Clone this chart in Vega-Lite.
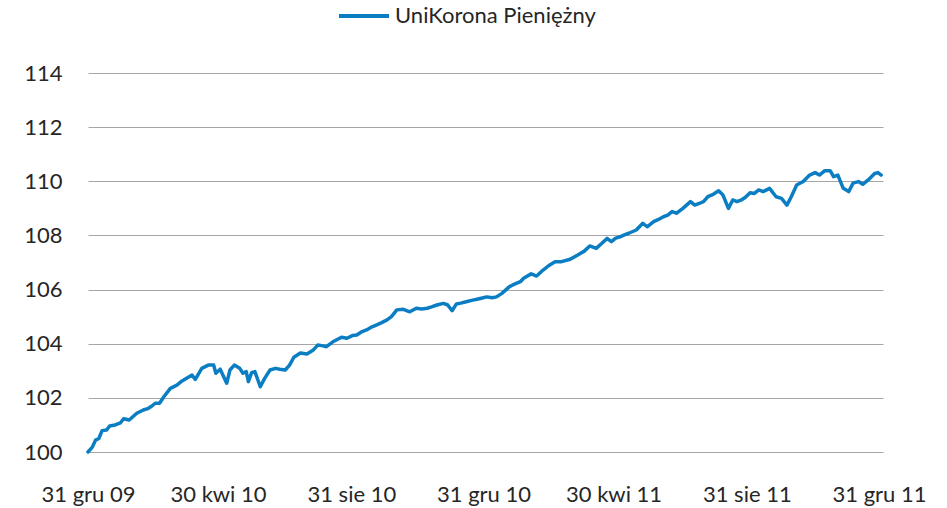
{
  "$schema": "https://vega.github.io/schema/vega-lite/v6.json",
  "autosize": {"type": "none"},
  "width": 795,
  "height": 379,
  "padding": {"left": 88, "top": 73, "right": 64, "bottom": 56},
  "background": "white",
  "config": {
    "view": {"stroke": null},
    "font": "Lato",
    "axis": {"labelFont": "Lato", "labelFontSize": 22, "labelColor": "#262626", "ticks": false, "tickSize": 0, "domain": false, "title": null}
  },
  "data": {
    "values": [
      {"date": "2009-12-31T00:00:00", "value": 100.0},
      {"date": "2010-01-04T00:00:00", "value": 100.18},
      {"date": "2010-01-07T00:00:00", "value": 100.44},
      {"date": "2010-01-10T00:00:00", "value": 100.50},
      {"date": "2010-01-13T00:00:00", "value": 100.79},
      {"date": "2010-01-17T00:00:00", "value": 100.81},
      {"date": "2010-01-20T00:00:00", "value": 100.96},
      {"date": "2010-01-25T00:00:00", "value": 101.00},
      {"date": "2010-01-30T00:00:00", "value": 101.08},
      {"date": "2010-02-02T00:00:00", "value": 101.23},
      {"date": "2010-02-07T00:00:00", "value": 101.18},
      {"date": "2010-02-14T00:00:00", "value": 101.43},
      {"date": "2010-02-20T00:00:00", "value": 101.55},
      {"date": "2010-02-24T00:00:00", "value": 101.60},
      {"date": "2010-02-28T00:00:00", "value": 101.70},
      {"date": "2010-03-03T00:00:00", "value": 101.80},
      {"date": "2010-03-07T00:00:00", "value": 101.80},
      {"date": "2010-03-11T00:00:00", "value": 102.04},
      {"date": "2010-03-17T00:00:00", "value": 102.35},
      {"date": "2010-03-23T00:00:00", "value": 102.47},
      {"date": "2010-03-27T00:00:00", "value": 102.60},
      {"date": "2010-04-01T00:00:00", "value": 102.72},
      {"date": "2010-04-06T00:00:00", "value": 102.84},
      {"date": "2010-04-09T00:00:00", "value": 102.68},
      {"date": "2010-04-15T00:00:00", "value": 103.09},
      {"date": "2010-04-21T00:00:00", "value": 103.21},
      {"date": "2010-04-26T00:00:00", "value": 103.21},
      {"date": "2010-04-28T00:00:00", "value": 102.91},
      {"date": "2010-05-02T00:00:00", "value": 103.06},
      {"date": "2010-05-08T00:00:00", "value": 102.54},
      {"date": "2010-05-11T00:00:00", "value": 103.03},
      {"date": "2010-05-15T00:00:00", "value": 103.21},
      {"date": "2010-05-20T00:00:00", "value": 103.09},
      {"date": "2010-05-23T00:00:00", "value": 102.91},
      {"date": "2010-05-26T00:00:00", "value": 102.97},
      {"date": "2010-05-28T00:00:00", "value": 102.60},
      {"date": "2010-05-31T00:00:00", "value": 102.93},
      {"date": "2010-06-03T00:00:00", "value": 102.97},
      {"date": "2010-06-08T00:00:00", "value": 102.41},
      {"date": "2010-06-12T00:00:00", "value": 102.72},
      {"date": "2010-06-17T00:00:00", "value": 103.03},
      {"date": "2010-06-22T00:00:00", "value": 103.09},
      {"date": "2010-06-26T00:00:00", "value": 103.06},
      {"date": "2010-07-01T00:00:00", "value": 103.03},
      {"date": "2010-07-05T00:00:00", "value": 103.21},
      {"date": "2010-07-09T00:00:00", "value": 103.50},
      {"date": "2010-07-15T00:00:00", "value": 103.66},
      {"date": "2010-07-21T00:00:00", "value": 103.62},
      {"date": "2010-07-27T00:00:00", "value": 103.77},
      {"date": "2010-07-31T00:00:00", "value": 103.95},
      {"date": "2010-08-05T00:00:00", "value": 103.92},
      {"date": "2010-08-08T00:00:00", "value": 103.89},
      {"date": "2010-08-14T00:00:00", "value": 104.07},
      {"date": "2010-08-22T00:00:00", "value": 104.24},
      {"date": "2010-08-27T00:00:00", "value": 104.20},
      {"date": "2010-09-01T00:00:00", "value": 104.30},
      {"date": "2010-09-05T00:00:00", "value": 104.32},
      {"date": "2010-09-10T00:00:00", "value": 104.45},
      {"date": "2010-09-14T00:00:00", "value": 104.51},
      {"date": "2010-09-18T00:00:00", "value": 104.60},
      {"date": "2010-09-23T00:00:00", "value": 104.69},
      {"date": "2010-09-28T00:00:00", "value": 104.78},
      {"date": "2010-10-03T00:00:00", "value": 104.88},
      {"date": "2010-10-07T00:00:00", "value": 105.00},
      {"date": "2010-10-12T00:00:00", "value": 105.25},
      {"date": "2010-10-18T00:00:00", "value": 105.27},
      {"date": "2010-10-24T00:00:00", "value": 105.18},
      {"date": "2010-10-30T00:00:00", "value": 105.31},
      {"date": "2010-11-04T00:00:00", "value": 105.28},
      {"date": "2010-11-09T00:00:00", "value": 105.31},
      {"date": "2010-11-13T00:00:00", "value": 105.36},
      {"date": "2010-11-18T00:00:00", "value": 105.43},
      {"date": "2010-11-24T00:00:00", "value": 105.49},
      {"date": "2010-11-28T00:00:00", "value": 105.43},
      {"date": "2010-12-02T00:00:00", "value": 105.22},
      {"date": "2010-12-06T00:00:00", "value": 105.47},
      {"date": "2010-12-10T00:00:00", "value": 105.50},
      {"date": "2010-12-15T00:00:00", "value": 105.55},
      {"date": "2010-12-20T00:00:00", "value": 105.60},
      {"date": "2010-12-25T00:00:00", "value": 105.64},
      {"date": "2010-12-29T00:00:00", "value": 105.68},
      {"date": "2011-01-03T00:00:00", "value": 105.73},
      {"date": "2011-01-08T00:00:00", "value": 105.70},
      {"date": "2011-01-12T00:00:00", "value": 105.73},
      {"date": "2011-01-17T00:00:00", "value": 105.86},
      {"date": "2011-01-24T00:00:00", "value": 106.11},
      {"date": "2011-01-27T00:00:00", "value": 106.17},
      {"date": "2011-02-03T00:00:00", "value": 106.29},
      {"date": "2011-02-06T00:00:00", "value": 106.42},
      {"date": "2011-02-13T00:00:00", "value": 106.58},
      {"date": "2011-02-18T00:00:00", "value": 106.50},
      {"date": "2011-02-24T00:00:00", "value": 106.72},
      {"date": "2011-03-01T00:00:00", "value": 106.88},
      {"date": "2011-03-07T00:00:00", "value": 107.03},
      {"date": "2011-03-13T00:00:00", "value": 107.03},
      {"date": "2011-03-21T00:00:00", "value": 107.12},
      {"date": "2011-03-28T00:00:00", "value": 107.28},
      {"date": "2011-04-03T00:00:00", "value": 107.42},
      {"date": "2011-04-08T00:00:00", "value": 107.61},
      {"date": "2011-04-14T00:00:00", "value": 107.52},
      {"date": "2011-04-19T00:00:00", "value": 107.70},
      {"date": "2011-04-24T00:00:00", "value": 107.89},
      {"date": "2011-04-28T00:00:00", "value": 107.77},
      {"date": "2011-05-02T00:00:00", "value": 107.90},
      {"date": "2011-05-06T00:00:00", "value": 107.95},
      {"date": "2011-05-10T00:00:00", "value": 108.02},
      {"date": "2011-05-14T00:00:00", "value": 108.08},
      {"date": "2011-05-21T00:00:00", "value": 108.20},
      {"date": "2011-05-27T00:00:00", "value": 108.45},
      {"date": "2011-05-31T00:00:00", "value": 108.32},
      {"date": "2011-06-06T00:00:00", "value": 108.51},
      {"date": "2011-06-10T00:00:00", "value": 108.58},
      {"date": "2011-06-15T00:00:00", "value": 108.69},
      {"date": "2011-06-19T00:00:00", "value": 108.75},
      {"date": "2011-06-23T00:00:00", "value": 108.88},
      {"date": "2011-06-27T00:00:00", "value": 108.82},
      {"date": "2011-07-03T00:00:00", "value": 109.00},
      {"date": "2011-07-10T00:00:00", "value": 109.25},
      {"date": "2011-07-14T00:00:00", "value": 109.12},
      {"date": "2011-07-18T00:00:00", "value": 109.18},
      {"date": "2011-07-22T00:00:00", "value": 109.25},
      {"date": "2011-07-26T00:00:00", "value": 109.43},
      {"date": "2011-07-31T00:00:00", "value": 109.52},
      {"date": "2011-08-05T00:00:00", "value": 109.65},
      {"date": "2011-08-09T00:00:00", "value": 109.49},
      {"date": "2011-08-14T00:00:00", "value": 109.00},
      {"date": "2011-08-18T00:00:00", "value": 109.31},
      {"date": "2011-08-22T00:00:00", "value": 109.25},
      {"date": "2011-08-26T00:00:00", "value": 109.31},
      {"date": "2011-08-30T00:00:00", "value": 109.42},
      {"date": "2011-09-03T00:00:00", "value": 109.58},
      {"date": "2011-09-07T00:00:00", "value": 109.55},
      {"date": "2011-09-11T00:00:00", "value": 109.68},
      {"date": "2011-09-15T00:00:00", "value": 109.62},
      {"date": "2011-09-21T00:00:00", "value": 109.74},
      {"date": "2011-09-27T00:00:00", "value": 109.43},
      {"date": "2011-10-02T00:00:00", "value": 109.37},
      {"date": "2011-10-07T00:00:00", "value": 109.12},
      {"date": "2011-10-11T00:00:00", "value": 109.43},
      {"date": "2011-10-16T00:00:00", "value": 109.86},
      {"date": "2011-10-22T00:00:00", "value": 109.99},
      {"date": "2011-10-28T00:00:00", "value": 110.23},
      {"date": "2011-11-02T00:00:00", "value": 110.32},
      {"date": "2011-11-06T00:00:00", "value": 110.23},
      {"date": "2011-11-11T00:00:00", "value": 110.39},
      {"date": "2011-11-16T00:00:00", "value": 110.39},
      {"date": "2011-11-19T00:00:00", "value": 110.17},
      {"date": "2011-11-23T00:00:00", "value": 110.23},
      {"date": "2011-11-28T00:00:00", "value": 109.74},
      {"date": "2011-12-03T00:00:00", "value": 109.62},
      {"date": "2011-12-07T00:00:00", "value": 109.93},
      {"date": "2011-12-12T00:00:00", "value": 109.99},
      {"date": "2011-12-16T00:00:00", "value": 109.89},
      {"date": "2011-12-21T00:00:00", "value": 110.05},
      {"date": "2011-12-27T00:00:00", "value": 110.29},
      {"date": "2011-12-30T00:00:00", "value": 110.32},
      {"date": "2012-01-02T00:00:00", "value": 110.23}
    ]
  },
  "mark": {"type": "line", "strokeWidth": 3.5, "strokeJoin": "round", "strokeCap": "round"},
  "encoding": {
    "x": {
      "field": "date",
      "type": "temporal",
      "scale": {"domain": [{"year": 2009, "month": 12, "date": 31}, {"year": 2012, "month": 1, "date": 3, "hours": 16}]},
      "axis": {
        "grid": false,
        "labelPadding": 32,
        "labelFlush": false,
        "labelOverlap": false,
        "values": [
          {"year": 2009, "month": 12, "date": 31},
          {"year": 2010, "month": 4, "date": 30},
          {"year": 2010, "month": 8, "date": 31},
          {"year": 2010, "month": 12, "date": 31},
          {"year": 2011, "month": 4, "date": 30},
          {"year": 2011, "month": 8, "date": 31},
          {"year": 2011, "month": 12, "date": 31}
        ],
        "labelExpr": "date(datum.value) + ' ' + ['sty','lut','mar','kwi','maj','cze','lip','sie','wrz','paź','lis','gru'][month(datum.value)] + ' ' + timeFormat(datum.value, '%y')"
      }
    },
    "y": {
      "field": "value",
      "type": "quantitative",
      "scale": {"domain": [100, 114], "zero": false, "nice": false},
      "axis": {
        "values": [100, 102, 104, 106, 108, 110, 112, 114],
        "grid": true,
        "gridColor": "#A6A6A6",
        "gridWidth": 1,
        "labelPadding": 26
      }
    },
    "color": {
      "datum": "UniKorona Pieniężny",
      "type": "nominal",
      "scale": {"range": ["#0B7EC3"]},
      "legend": {
        "title": null,
        "orient": "none",
        "legendX": 249,
        "legendY": -84,
        "symbolType": "stroke",
        "symbolSize": 2500,
        "symbolStrokeWidth": 4,
        "labelFont": "Lato",
        "labelFontSize": 22,
        "labelColor": "#262626",
        "labelOffset": 4,
        "labelLimit": 500
      }
    }
  }
}
